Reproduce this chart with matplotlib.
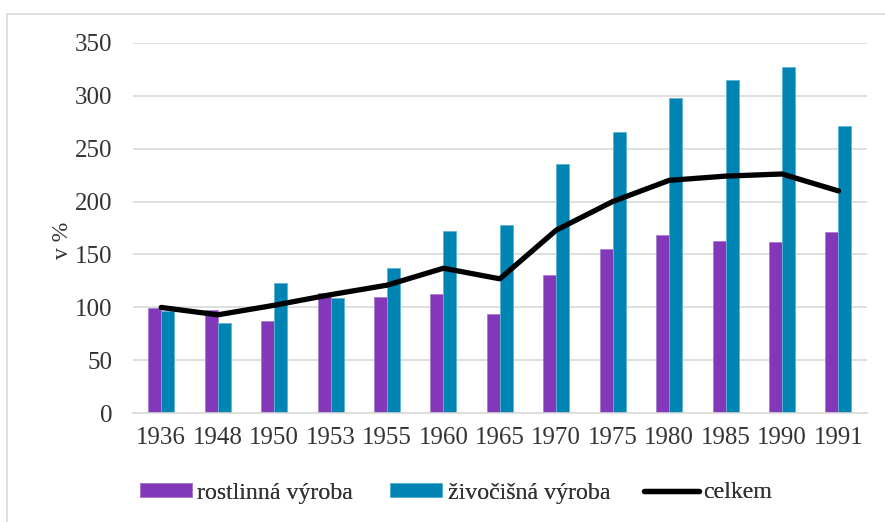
import numpy as np
import matplotlib
matplotlib.use("Agg")
import matplotlib.pyplot as plt
from matplotlib.patches import Rectangle

# values (index, 1936 = 100)
years = ["1936", "1948", "1950", "1953", "1955", "1960", "1965",
         "1970", "1975", "1980", "1985", "1990", "1991"]
rostlinna = [99.5, 97.5, 87.5, 113.5, 110, 113, 94, 131, 155, 168, 163, 162, 171]
zivocisna = [97, 85, 123, 109, 137, 172, 178, 235, 266, 298, 315, 327, 271]
celkem = [100, 93, 102, 112, 121, 137, 127, 173, 200, 220, 224, 226, 210]

purple = "#8338B9"
blue = "#0084B4"
grid_c = "#D9D9D9"
text_c = "#333333"

plt.rcParams["font.family"] = ["Liberation Serif", "DejaVu Serif"]

W, H = 885, 522
fig = plt.figure(figsize=(W / 100, H / 100), dpi=100)
ax = fig.add_axes([133 / W, 1 - 413.3 / H, (866.7 - 133) / W, (413.3 - 42.7) / H])

# outer chart border (cut off on the right and bottom like the reference)
fig.patches.append(Rectangle((7 / W, -0.1), 1.2, 1.1 - 14 / H, transform=fig.transFigure,
                             fill=False, edgecolor=grid_c, linewidth=1.2, zorder=0))

x = np.arange(len(years))
bw = 0.23
b1 = ax.bar(x - bw / 2, rostlinna, bw, color=purple, edgecolor="#A77CD0", linewidth=0.6,
            label="rostlinná výroba", zorder=2)
b2 = ax.bar(x + bw / 2, zivocisna, bw, color=blue, edgecolor="#5FB3D3", linewidth=0.6,
            label="živočišná výroba", zorder=2)
ln, = ax.plot(x, celkem, color="black", linewidth=3.8, solid_capstyle="round",
              label="celkem", zorder=3)

ax.set_xlim(-0.5, len(years) - 0.5)
ax.set_ylim(0, 350)
ax.set_yticks(range(0, 351, 50))
ax.set_xticks(x)
ax.set_xticklabels(years)
ax.yaxis.grid(True, color=grid_c, linewidth=1.2, zorder=0)
ax.set_axisbelow(True)
for s in ["top", "right", "left"]:
    ax.spines[s].set_visible(False)
ax.spines["bottom"].set_color(grid_c)
ax.spines["bottom"].set_linewidth(1.2)
ax.tick_params(axis="both", length=0, labelsize=18, colors=text_c)
ax.tick_params(axis="y", pad=15)
ax.tick_params(axis="x", pad=10)

fig.text(62 / W, 1 - 240 / H, "v %", rotation=90, ha="center", va="center",
         fontsize=17, color=text_c)

# one legend per entry so the spacing can follow the reference
fs = 17.2
fs_px = fs * 100 / 72
entries = [(b1, "rostlinná výroba", 140, 52, 5),
           (b2, "živočišná výroba", 390, 52, 6),
           (ln, "celkem", 644, 55, 4)]
for h, lab, x0, hl, tp in entries:
    leg = fig.legend([h], [lab], loc="center left", bbox_to_anchor=(x0 / W, 1 - 493 / H),
                     frameon=False, fontsize=fs, handlelength=hl / fs_px,
                     handleheight=11.5 / fs_px, handletextpad=tp / fs_px,
                     borderpad=0, borderaxespad=0)
    leg.get_texts()[0].set_color(text_c)
    fig.add_artist(leg)

fig.savefig("out.png", dpi=100)
